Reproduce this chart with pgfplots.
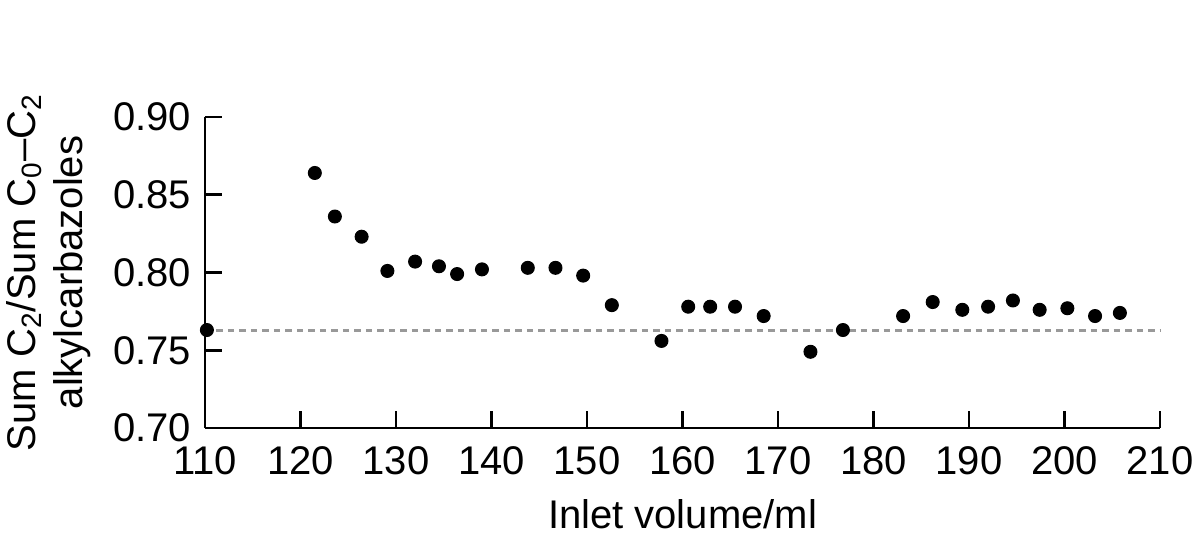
\documentclass[border=0pt]{standalone}
\usepackage{fontspec}
\setmainfont{Liberation Sans}
\usepackage{pgfplots}
\pgfplotsset{compat=1.18}

\pgfplotstableread{
x y
110.2 0.763
121.5 0.864
123.6 0.836
126.4 0.823
129.1 0.801
132.0 0.807
134.5 0.804
136.4 0.799
139.0 0.802
143.8 0.803
146.7 0.803
149.6 0.798
152.6 0.779
157.8 0.756
160.6 0.778
162.9 0.778
165.5 0.778
168.5 0.772
173.4 0.749
176.8 0.763
183.1 0.772
186.2 0.781
189.3 0.776
192.0 0.778
194.6 0.782
197.4 0.776
200.3 0.777
203.2 0.772
205.8 0.774
}\inletdata

\pgfplotstableread{
x y
110 0.7628
210 0.7628
}\refline

\newcommand{\chartfont}{\fontsize{16pt}{19pt}\selectfont}

\begin{document}
\begin{tikzpicture}
\useasboundingbox (-82pt,-47.6pt) rectangle (398pt,171.2pt);
\begin{axis}[
    at={(0,0)}, anchor=south west,
    scale only axis,
    width=382pt, height=124.4pt,
    xmin=110, xmax=210,
    ymin=0.70, ymax=0.90,
    xtick={110,120,...,210},
    ytick={0.70,0.75,0.80,0.85,0.90},
    axis x line*=bottom,
    axis y line*=left,
    axis line style={line width=1.1pt},
    tick style={line width=1.1pt, black},
    tick align=inside,
    major tick length=6.8pt,
    clip=false,
    /pgf/number format/assume math mode=true,
    yticklabel style={/pgf/number format/fixed, /pgf/number format/fixed zerofill, /pgf/number format/precision=2, xshift=-2pt},
    xticklabel style={yshift=-4pt},
    tick label style={font=\chartfont},
    label style={font=\chartfont},
    xlabel={Inlet volume/ml},
    xlabel style={yshift=-3pt},
    ylabel={Sum C\textsubscript{2}/Sum C\textsubscript{0}–C\textsubscript{2}\\alkylcarbazoles},
    ylabel style={align=center, yshift=2pt},
]
\addplot[gray!80, line width=1.2pt, dash pattern=on 2.6pt off 2pt] table {\refline};
\addplot[only marks, mark=*, mark size=2.6pt, black] table {\inletdata};
\end{axis}
\end{tikzpicture}
\end{document}
